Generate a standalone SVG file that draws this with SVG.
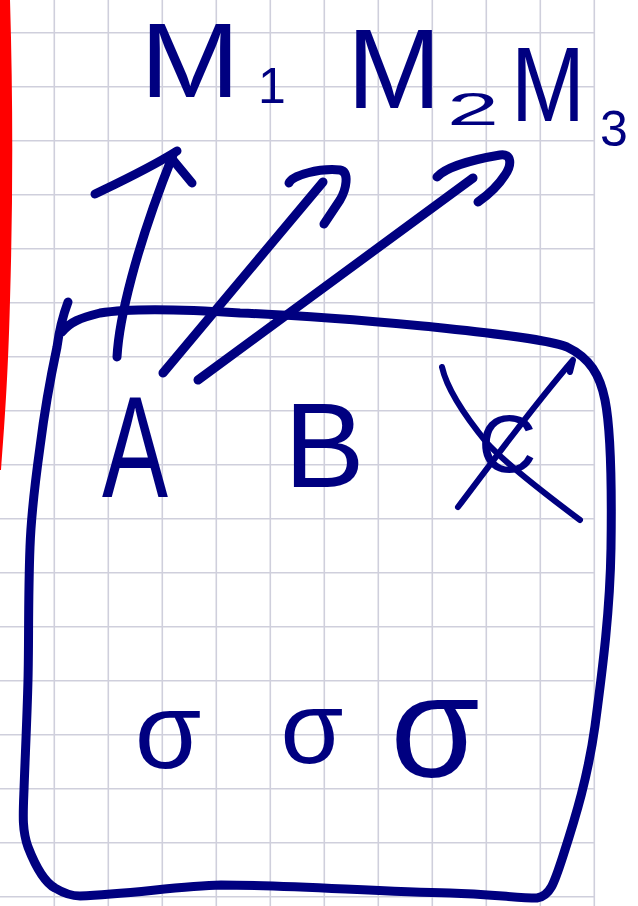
<svg xmlns="http://www.w3.org/2000/svg" width="638" height="906" viewBox="0 0 638 906">
<style>
.grid line{stroke:#cfcfdc;stroke-width:1.6}
.ink{fill:none;stroke:#000080;stroke-width:9;stroke-linecap:round;stroke-linejoin:round}
.thin{fill:none;stroke:#000080;stroke-width:6;stroke-linecap:round;stroke-linejoin:round}
.lbl{fill:#000080;font-family:"Liberation Sans",Arial,sans-serif}
</style>
<rect width="638" height="906" fill="#ffffff"/>
<g class="grid" id="grid">
<line x1="54.3" y1="0" x2="54.3" y2="906"/><line x1="108.3" y1="0" x2="108.3" y2="906"/><line x1="162.3" y1="0" x2="162.3" y2="906"/><line x1="216.3" y1="0" x2="216.3" y2="906"/><line x1="270.3" y1="0" x2="270.3" y2="906"/><line x1="324.3" y1="0" x2="324.3" y2="906"/><line x1="378.3" y1="0" x2="378.3" y2="906"/><line x1="432.3" y1="0" x2="432.3" y2="906"/><line x1="486.3" y1="0" x2="486.3" y2="906"/><line x1="540.3" y1="0" x2="540.3" y2="906"/><line x1="594.3" y1="0" x2="594.3" y2="906"/>
<line x1="0" y1="32.7" x2="595" y2="32.7"/><line x1="0" y1="86.7" x2="595" y2="86.7"/><line x1="0" y1="140.7" x2="595" y2="140.7"/><line x1="0" y1="194.7" x2="595" y2="194.7"/><line x1="0" y1="248.7" x2="595" y2="248.7"/><line x1="0" y1="302.7" x2="595" y2="302.7"/><line x1="0" y1="356.7" x2="595" y2="356.7"/><line x1="0" y1="410.7" x2="595" y2="410.7"/><line x1="0" y1="464.7" x2="595" y2="464.7"/><line x1="0" y1="518.7" x2="595" y2="518.7"/><line x1="0" y1="572.7" x2="595" y2="572.7"/><line x1="0" y1="626.7" x2="595" y2="626.7"/><line x1="0" y1="680.7" x2="595" y2="680.7"/><line x1="0" y1="734.7" x2="595" y2="734.7"/><line x1="0" y1="788.7" x2="595" y2="788.7"/><line x1="0" y1="842.7" x2="595" y2="842.7"/><line x1="0" y1="896.7" x2="595" y2="896.7"/>
</g>
<path id="margin" d="M0,0 L10,0 C13,100 13,200 10,300 C8,380 4,430 1,470 L0,470 Z" fill="#ff0000"/>

<g id="node-M1"><text class="lbl" x="190" y="97" font-size="106" text-anchor="middle" textLength="100" lengthAdjust="spacingAndGlyphs">M</text><text class="lbl" x="272" y="103" font-size="50" text-anchor="middle">1</text></g>
<g id="node-M2"><text class="lbl" x="394" y="108" font-size="113" text-anchor="middle">M</text><text class="lbl" x="447" y="125" font-size="46" textLength="52" lengthAdjust="spacingAndGlyphs">2</text></g>
<g id="node-M3"><text class="lbl" x="548" y="121" font-size="106" text-anchor="middle" textLength="74" lengthAdjust="spacingAndGlyphs">M</text><text class="lbl" x="614" y="146" font-size="50" text-anchor="middle">3</text></g>

<g id="box"><path class="ink" d="M68,302 C62,318 59,332 57,347 C50,380 44,415 40,447 C34,490 31,520 30,547 C28,600 29,640 28,680 C27,720 25,760 24,790 C23,815 22,830 28,847 C35,865 44,882 55,888 C65,894 72,896 80,896 C130,894 180,886 221,885 C290,885 380,892 450,893 C490,894 515,898 537,898 C550,896 554,884 563,856 C576,816 588,776 595,726 C603,666 610,610 611,548 C612,480 610,425 605,400 C600,375 590,358 567,347 C550,340 500,334 433,327 C380,322 320,316 240,313 C180,309 130,308 100,313 C80,318 70,322 62,332"/></g>

<g id="node-A"><text class="lbl" x="102" y="497" font-size="144" textLength="66" lengthAdjust="spacingAndGlyphs">A</text></g>
<g id="node-B"><text class="lbl" x="284" y="487" font-size="121">B</text></g>
<g id="node-C"><text class="lbl" x="478" y="472" font-size="81">C</text>
<path class="thin" d="M442,367 C446,385 460,410 487,443 C505,463 540,490 580,520"/>
<path class="thin" d="M458,507 C490,465 530,410 573,360 L570,372"/></g>

<g id="sigma-1"><text class="lbl" x="168" y="768" font-size="108" text-anchor="middle">σ</text></g>
<g id="sigma-2"><text class="lbl" x="312" y="763" font-size="102" text-anchor="middle">σ</text></g>
<g id="sigma-3"><text class="lbl" x="435" y="777" font-size="145" text-anchor="middle">σ</text></g>

<g id="connectors">
<path class="ink" d="M117,357 C119,320 135,250 173,155"/>
<path class="ink" d="M95,194 C120,182 150,168 177,151 M173,160 L192,183"/>
<path class="ink" d="M163,373 L323,182"/>
<path class="ink" d="M289,183 C292,175 320,168 340,170 C350,172 346,190 340,200 L324,224"/>
<path class="ink" d="M198,380 L473,178"/>
<path class="ink" d="M437,177 C445,168 470,160 500,155 C512,153 512,165 505,175 C498,186 488,195 478,202"/>
</g>
</svg>
